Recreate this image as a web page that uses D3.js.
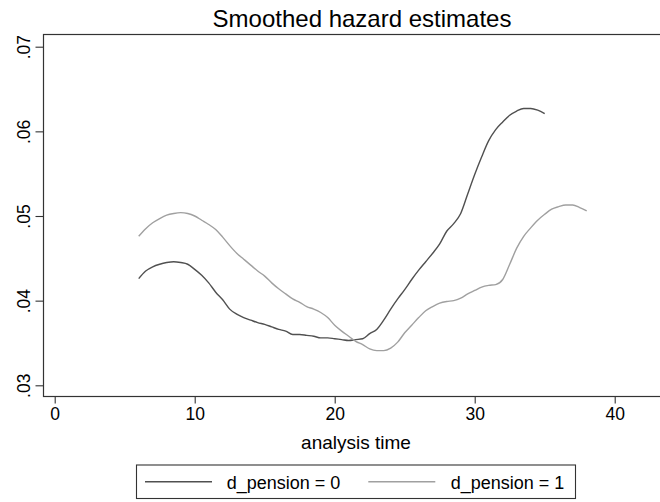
<!DOCTYPE html>
<html>
<head>
<meta charset="utf-8">
<script src="https://cdn.jsdelivr.net/npm/d3@7"></script>
<style>
	body { margin: 0; background: #fff; }
	svg text { font-family: "Liberation Sans", Arial, sans-serif; fill: #000; }
</style>
</head>
<body>
<svg id="chart" width="660" height="502"></svg>
<script>
'use strict';

/*
global d3
*/

// analysis time grid (both curves share the step)
const timePension0 = [
	6, 6.5, 7, 7.5, 8, 8.5, 9, 9.5, 10, 10.5, 11, 11.5, 12, 12.5, 13, 13.5,
	14, 14.5, 15, 15.5, 16, 16.5, 17, 17.5, 18, 18.5, 19, 19.5, 20, 20.5,
	21, 21.5, 22, 22.5, 23, 23.5, 24, 24.5, 25, 25.5, 26, 26.5, 27, 27.5,
	28, 28.5, 29, 29.5, 30, 30.5, 31, 31.5, 32, 32.5, 33, 33.5, 34, 34.5, 35
];
const hazardPension0 = [
	0.0426, 0.0435, 0.0440, 0.0443, 0.0445, 0.0446, 0.0445, 0.0443, 0.0437, 0.0430,
	0.0421, 0.0410, 0.0401, 0.0390, 0.0384, 0.0380, 0.0377, 0.0374, 0.0372, 0.0369,
	0.0366, 0.0364, 0.0360, 0.0360, 0.0359, 0.0358, 0.0356, 0.0356, 0.0355, 0.0354,
	0.0353, 0.0354, 0.0355, 0.0361, 0.0366, 0.0377, 0.0390, 0.0402, 0.0413, 0.0425,
	0.0436, 0.0446, 0.0456, 0.0467, 0.0482, 0.0491, 0.0503, 0.0526, 0.0549, 0.0570,
	0.0589, 0.0602, 0.0611, 0.0619, 0.0624, 0.0627, 0.0627, 0.0625, 0.0621
];

const timePension1 = [
	6, 6.5, 7, 7.5, 8, 8.5, 9, 9.5, 10, 10.5, 11, 11.5, 12, 12.5, 13, 13.5,
	14, 14.5, 15, 15.5, 16, 16.5, 17, 17.5, 18, 18.5, 19, 19.5, 20, 20.5,
	21, 21.5, 22, 22.5, 23, 23.5, 24, 24.5, 25, 25.5, 26, 26.5, 27, 27.5,
	28, 28.5, 29, 29.5, 30, 30.5, 31, 31.5, 32, 32.5, 33, 33.5, 34, 34.5,
	35, 35.5, 36, 36.5, 37, 37.5, 38
];
const hazardPension1 = [
	0.0476, 0.0485, 0.0492, 0.0497, 0.0501, 0.0503, 0.0504, 0.0503, 0.0500, 0.0495,
	0.0490, 0.0484, 0.0475, 0.0465, 0.0456, 0.0449, 0.0442, 0.0435, 0.0429, 0.0421,
	0.0414, 0.0408, 0.0402, 0.0398, 0.0393, 0.0390, 0.0386, 0.0380, 0.0371, 0.0364,
	0.0358, 0.0352, 0.0348, 0.0343, 0.0341, 0.0341, 0.0344, 0.0351, 0.0362, 0.0371,
	0.0380, 0.0388, 0.0393, 0.0397, 0.0399, 0.0400, 0.0403, 0.0408, 0.0412, 0.0416,
	0.0418, 0.0419, 0.0425, 0.0443, 0.0462, 0.0476, 0.0486, 0.0495, 0.0502, 0.0508,
	0.0511, 0.0513, 0.0513, 0.0510, 0.0506
];

const xTicks = [0, 10, 20, 30, 40];
const yTicks = [0.03, 0.04, 0.05, 0.06, 0.07];
const yTickLabels = ['.03', '.04', '.05', '.06', '.07'];
const seriesNames = ['d_pension = 0', 'd_pension = 1'];
const seriesColours = ['#505050', '#a0a0a0'];

let svg = d3.select('#chart');

// plot region edges (right side runs off the picture)
const frame = {left: 43.5, top: 34.5, right: 680, bottom: 396.5};

let x = d3.scaleLinear().domain([0, 40]).range([54.7, 614.7]);
let y = d3.scaleLinear().domain([0.03, 0.07]).range([385.3, 46.7]);

svg.append('rect')
	.attr('x', frame.left)
	.attr('y', frame.top)
	.attr('width', frame.right - frame.left)
	.attr('height', frame.bottom - frame.top)
	.attr('fill', 'none')
	.attr('stroke', '#333')
	.attr('stroke-width', 1.2);

// axes
let xAxis = d3.axisBottom(x)
	.tickValues(xTicks)
	.tickSize(7)
	.tickPadding(4)
	.tickSizeOuter(0);
let gx = svg.append('g')
	.attr('transform', 'translate(0,' + frame.bottom + ')')
	.call(xAxis);
gx.select('.domain').remove();
gx.selectAll('line').attr('stroke', '#333').attr('stroke-width', 1.1);
gx.selectAll('text')
	.attr('font-size', '17.5px')
	.attr('fill', '#000');

let yAxis = d3.axisLeft(y)
	.tickValues(yTicks)
	.tickFormat((d, i) => yTickLabels[i])
	.tickSize(8)
	.tickSizeOuter(0);
let gy = svg.append('g')
	.attr('transform', 'translate(' + frame.left + ',0)')
	.call(yAxis);
gy.select('.domain').remove();
gy.selectAll('line').attr('stroke', '#333').attr('stroke-width', 1.1);
gy.selectAll('text')
	.attr('font-size', '17.5px')
	.attr('fill', '#000')
	.attr('x', null)
	.attr('dy', null)
	.attr('text-anchor', 'middle')
	.attr('transform', 'translate(-13.5,0) rotate(-90)');

// curves
let line = d3.line()
	.x(d => x(d[0]))
	.y(d => y(d[1]))
	.curve(d3.curveMonotoneX);

let series = [
	d3.zip(timePension0, hazardPension0),
	d3.zip(timePension1, hazardPension1)
];

svg.append('g')
	.selectAll('path')
	.data(series)
	.enter().append('path')
		.attr('d', line)
		.attr('fill', 'none')
		.attr('stroke', (d, i) => seriesColours[i])
		.attr('stroke-width', 1.4);

// titles
svg.append('text')
	.attr('x', 362)
	.attr('y', 26.5)
	.attr('text-anchor', 'middle')
	.attr('font-size', '24px')
	.text('Smoothed hazard estimates');

svg.append('text')
	.attr('x', 356)
	.attr('y', 449)
	.attr('text-anchor', 'middle')
	.attr('font-size', '19px')
	.text('analysis time');

// legend
let legend = svg.append('g');
legend.append('rect')
	.attr('x', 136.5)
	.attr('y', 465)
	.attr('width', 439)
	.attr('height', 33.5)
	.attr('fill', '#fff')
	.attr('stroke', '#333')
	.attr('stroke-width', 1.1);

const legendLineX = [145, 368.3];
const legendTextX = [226.7, 450.7];
let items = legend.selectAll('g.item')
	.data(seriesNames)
	.enter().append('g')
		.attr('class', 'item');
items.append('line')
	.attr('x1', (d, i) => legendLineX[i])
	.attr('x2', (d, i) => legendLineX[i] + 67)
	.attr('y1', 481.7)
	.attr('y2', 481.7)
	.attr('stroke', (d, i) => seriesColours[i])
	.attr('stroke-width', 1.4);
items.append('text')
	.attr('x', (d, i) => legendTextX[i])
	.attr('y', 488.5)
	.attr('font-size', '18px')
	.text(d => d);
</script>
</body>
</html>
